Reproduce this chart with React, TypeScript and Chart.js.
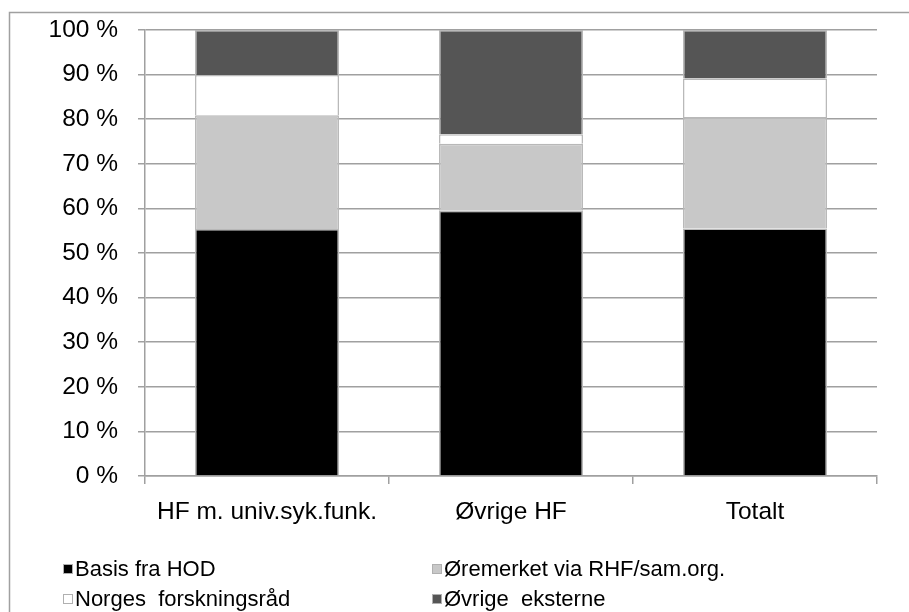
import React, { useEffect, useRef } from "react";
import { Chart, registerables } from "chart.js";

Chart.register(...registerables);

const categories = ["HF m. univ.syk.funk.", "Øvrige HF", "Totalt"];
const seriesNames = ["Basis fra HOD", "Øremerket via RHF/sam.org.", "Norges  forskningsråd", "Øvrige  eksterne"];
const basis = [55.4, 59.5, 55.5];
const oremerket = [25.5, 15.0, 25.0];
const nfr = [9.0, 2.1, 8.6];
const ovrige = [10.1, 23.4, 10.9];
const seriesColors = ["#000000", "#c8c8c8", "#ffffff", "#555555"];
const yTicks = [0, 10, 20, 30, 40, 50, 60, 70, 80, 90, 100];

const FONT = "'Liberation Sans', Arial, sans-serif";
const FS = 22;
const AXFS = 24.5;

const framePlugin = {
  id: "frame",
  afterDraw(chart: any) {
    const ctx = chart.ctx;
    ctx.save();
    ctx.strokeStyle = "#a0a0a0";
    ctx.lineWidth = 1.5;
    ctx.beginPath();
    ctx.moveTo(9.5, 612);
    ctx.lineTo(9.5, 12.5);
    ctx.lineTo(909, 12.5);
    ctx.stroke();
    // legend
    const cols = [63, 432];
    const rows = [569, 599];
    const order = [0, 1, 2, 3];
    order.forEach((di, i) => {
      const ds = chart.data.datasets[di];
      const x = cols[i % 2];
      const y = rows[Math.floor(i / 2)];
      ctx.fillStyle = ds.backgroundColor;
      ctx.fillRect(x, y - 5, 10, 10);
      ctx.strokeStyle = "#b0b0b0";
      ctx.lineWidth = 1;
      ctx.strokeRect(x + 0.5, y - 4.5, 9, 9);
      ctx.fillStyle = "#000";
      ctx.font = `${FS}px ${FONT}`;
      ctx.textBaseline = "middle";
      ctx.textAlign = "left";
      ctx.fillText(ds.label, x + 12, y + 1);
    });
    ctx.restore();
  },
};

export default function App() {
  const ref = useRef<HTMLCanvasElement>(null);
  useEffect(() => {
    if (!ref.current) return;
    const values = [basis, oremerket, nfr, ovrige];
    const chart = new Chart(ref.current, {
      type: "bar",
      data: {
        labels: categories,
        datasets: seriesNames.map((name, i) => ({
          label: name,
          data: values[i],
          backgroundColor: seriesColors[i],
          borderColor: "#b8b8b8",
          borderWidth: 1.5,
          categoryPercentage: 1,
          barPercentage: 0.59,
        })),
      },
      options: {
        animation: false,
        responsive: false,
        devicePixelRatio: 1,
        layout: { padding: { left: 10, top: 30, right: 32, bottom: 86 } },
        plugins: { legend: { display: false }, tooltip: { enabled: false } },
        scales: {
          x: {
            stacked: true,
            afterFit: (s: any) => { s.height = 50; },
            grid: { drawOnChartArea: false, tickLength: 8, color: "#a0a0a0", lineWidth: 1.5, offset: true },
            border: { color: "#a0a0a0", width: 1.5 },
            ticks: { color: "#000", font: { family: FONT, size: AXFS }, padding: 14, maxRotation: 0 },
          },
          y: {
            stacked: true,
            min: 0,
            max: 100,
            afterFit: (s: any) => { s.width = 135; s.paddingTop = 0; s.paddingBottom = 0; },
            afterBuildTicks: (s: any) => { s.ticks = yTicks.map((v) => ({ value: v })); },
            grid: { tickLength: 7, color: "#a0a0a0", lineWidth: 1.5 },
            border: { color: "#a0a0a0", width: 1.5 },
            ticks: { color: "#000", font: { family: FONT, size: AXFS }, padding: 20, callback: (v: any) => `${v} %` },
          },
        },
      },
      plugins: [framePlugin],
    });
    return () => chart.destroy();
  }, []);
  return (
    <div style={{ position: "absolute", left: 0, top: 0, width: 909, height: 612, background: "#fff" }}>
      <canvas ref={ref} width={909} height={612} style={{ width: 909, height: 612 }} />
    </div>
  );
}
